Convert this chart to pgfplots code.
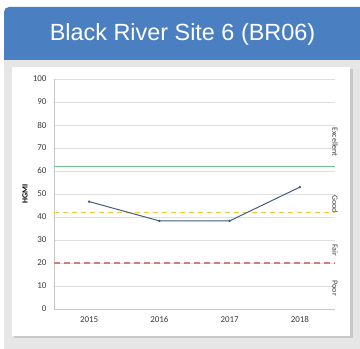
\documentclass[border=0pt]{standalone}
\usepackage{fontspec}
\setmainfont{Carlito}
\newfontfamily\titlefont{Liberation Sans}
\usepackage{pgfplots}
\pgfplotsset{compat=1.18}
\definecolor{hdrblue}{RGB}{74,128,193}
\definecolor{bggrey}{RGB}{230,230,230}
\definecolor{shadowgrey}{RGB}{200,200,200}
\definecolor{linecol}{RGB}{66,92,125}
\definecolor{goodgreen}{RGB}{110,192,140}
\definecolor{fairyellow}{RGB}{238,200,60}
\definecolor{poorred}{RGB}{204,128,128}
\definecolor{gridgrey}{RGB}{222,222,222}
\definecolor{txtgrey}{RGB}{60,60,60}
\begin{document}
\begin{tikzpicture}
% canvas
\path[use as bounding box] (0,0) rectangle (360bp,349bp);
\fill[white] (0,0) rectangle (360bp,349bp);
\fill[bggrey] (4bp,0) rectangle (360bp,290bp);
\fill[hdrblue, rounded corners=5bp] (4bp,289bp) rectangle (366bp,342bp);
\fill[hdrblue] (4bp,289bp) rectangle (360bp,300bp);
\node[text=white, font=\titlefont\fontsize{23.5}{26}\selectfont] at (182.5bp,315bp) {Black River Site 6 (BR06)};
% panel with shadow
\fill[shadowgrey] (14bp,11bp) rectangle (353bp,280bp);
\fill[white] (12bp,13bp) rectangle (350bp,282bp);
\begin{axis}[
  at={(54bp,40bp)}, anchor=south west,
  scale only axis, width=281bp, height=230bp,
  xmin=-0.5, xmax=3.5, ymin=0, ymax=100,
  xtick={0,1,2,3}, xticklabels={2015,2016,2017,2018},
  ytick={0,10,...,100},
  axis x line=bottom, axis y line=left,
  axis line style={-, draw=gray!45, line width=0.6pt},
  ymajorgrids, grid style={gridgrey, line width=0.6pt},
  major tick length=0pt,
  tick label style={font=\fontsize{9}{10}\selectfont, text=txtgrey},
  /pgf/number format/assume math mode=true,
  yticklabel style={xshift=-4bp},
  xticklabel style={yshift=-4bp},
  ylabel={\textbf{HGMI}},
  ylabel style={font=\fontsize{8}{9}\selectfont, text=black, at={(axis description cs:0,0.5)}, anchor=center, yshift=29bp},
  clip=false,
]
\addplot[goodgreen, line width=1.8pt] coordinates {(-0.5,62) (3.5,62)};
\addplot[fairyellow, line width=1.1pt, dash pattern=on 5bp off 4bp] coordinates {(-0.5,42) (3.5,42)};
\addplot[poorred, line width=1.4pt, dash pattern=on 6bp off 4bp] coordinates {(-0.5,20) (3.5,20)};
\addplot[linecol, line width=1pt, mark=*, mark size=0.6pt] coordinates {(0,46.7) (1,38.3) (2,38.3) (3,53)};
\node[rotate=-90, font=\fontsize{8}{9}\selectfont, text=txtgrey] at (axis cs:3.5,76) [xshift=8bp] {Excellent};
\node[rotate=-90, font=\fontsize{8}{9}\selectfont, text=txtgrey] at (axis cs:3.5,49) [xshift=8bp] {Good};
\node[rotate=-90, font=\fontsize{8}{9}\selectfont, text=txtgrey] at (axis cs:3.5,29) [xshift=8bp] {Fair};
\node[rotate=-90, font=\fontsize{8}{9}\selectfont, text=txtgrey] at (axis cs:3.5,12.5) [xshift=8bp] {Poor};
\end{axis}
\end{tikzpicture}
\end{document}
